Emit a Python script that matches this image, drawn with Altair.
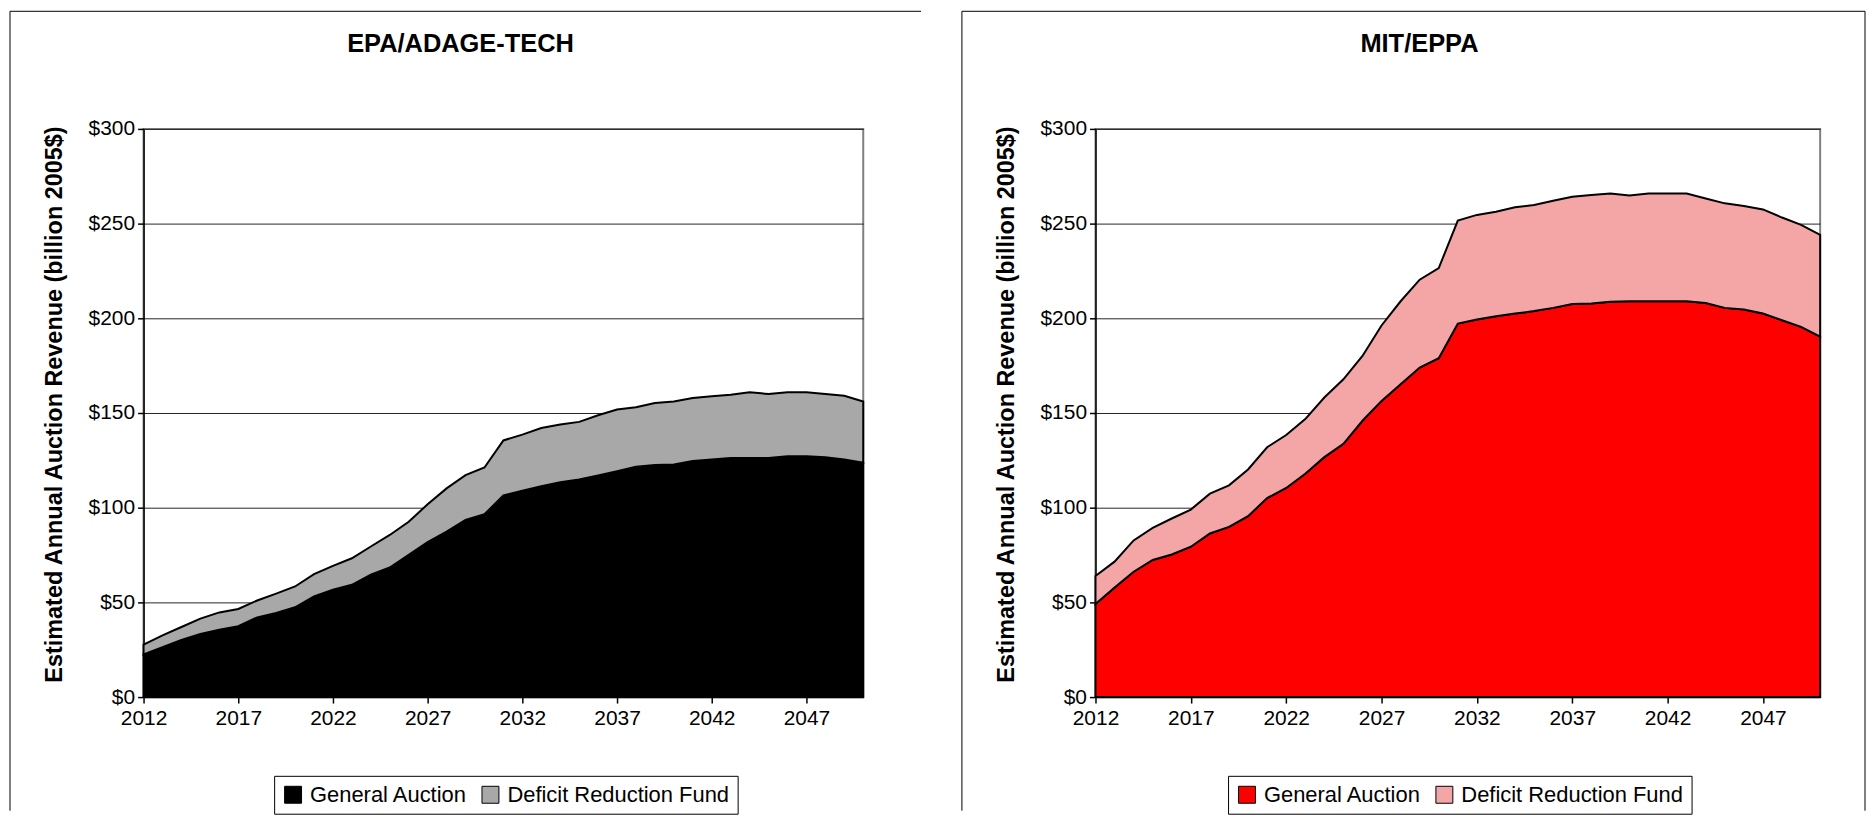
import altair as alt
import pandas as pd

years = list(range(2012, 2051))
series_names = ["General Auction", "Deficit Reduction Fund"]

# EPA/ADAGE-TECH (billion 2005$)
epa_general = [22.5, 26.3, 30.2, 33.3, 35.6, 37.4, 42.1, 44.4, 47.4, 53.2,
               56.7, 59.3, 64.6, 68.4, 75.1, 81.8, 87.4, 93.5, 96.5, 106.5,
               109.0, 111.4, 113.5, 114.9, 117.0, 119.3, 121.6, 122.5, 122.8, 124.6,
               125.4, 126.3, 126.3, 126.3, 127.2, 127.2, 126.7, 125.4, 123.7]
epa_deficit = [5.2, 6.3, 6.8, 8.1, 9.1, 9.1, 8.9, 10.2, 11.0, 11.7,
               12.6, 14.0, 14.9, 17.2, 17.5, 20.0, 22.8, 23.7, 24.7, 29.0,
               29.6, 30.7, 30.4, 30.4, 31.8, 32.5, 31.4, 32.8, 33.3, 33.3,
               33.4, 33.3, 34.7, 33.7, 33.8, 33.8, 33.3, 33.7, 32.4]

# MIT/EPPA (billion 2005$)
mit_general = [49.1, 57.8, 66.2, 72.4, 75.3, 79.4, 86.4, 89.9, 95.5, 105.1,
               110.4, 117.9, 126.7, 133.7, 145.9, 156.4, 165.2, 174.0, 178.9, 197.2,
               199.4, 201.1, 202.5, 203.8, 205.5, 207.6, 207.8, 208.7, 209.0, 209.0,
               209.0, 209.0, 208.1, 205.5, 204.6, 202.5, 199.0, 195.5, 190.3]
mit_deficit = [14.8, 13.7, 16.5, 16.9, 19.0, 19.6, 21.0, 21.9, 24.7, 26.8,
               28.0, 28.9, 31.5, 34.1, 34.2, 39.8, 43.8, 46.4, 47.6, 54.4,
               55.2, 55.2, 56.1, 56.0, 56.6, 56.6, 57.3, 57.2, 55.9, 56.9,
               56.9, 56.9, 55.2, 55.2, 54.7, 55.0, 54.2, 53.8, 53.7]

x_ticks = [2012, 2017, 2022, 2027, 2032, 2037, 2042, 2047]
y_ticks = [0, 50, 100, 150, 200, 250, 300]

FONT = "Liberation Sans"
Y_TITLE = "Estimated Annual Auction Revenue (billion 2005$)"


def long_df(general, deficit):
    rows = []
    for yr, g, d in zip(years, general, deficit):
        rows.append({"year": yr, "series": series_names[0], "value": g, "ord": 0})
        rows.append({"year": yr, "series": series_names[1], "value": d, "ord": 1})
    return pd.DataFrame(rows)


def panel(title, general, deficit, colors, plot_w, title_x, frame_right, legend_x):
    df = long_df(general, deficit)
    H = 570
    area = alt.Chart(df).mark_area(stroke="black", strokeWidth=2, opacity=1).encode(
        x=alt.X("year:Q",
                scale=alt.Scale(domain=[2012, 2050], nice=False, zero=False),
                axis=alt.Axis(values=x_ticks, format="d", title=None, grid=False,
                              labelFlush=False,
                              labelFontSize=21, labelPadding=5, tickSize=6,
                              tickWidth=1.5, domainWidth=1.5)),
        y=alt.Y("value:Q", stack="zero",
                scale=alt.Scale(domain=[0, 300], nice=False),
                axis=alt.Axis(values=y_ticks, labelExpr="'$' + datum.value",
                              title=Y_TITLE, titleFontSize=23.5, titleFontWeight="bold",
                              titleAngle=270, titleX=-82, titleY=276,
                              titleAlign="center", titleBaseline="alphabetic",
                              grid=True, gridColor="#262626", gridWidth=1,
                              labelFontSize=21, labelPadding=3, tickSize=6,
                              tickWidth=1.5, domainWidth=1.5)),
        color=alt.Color("series:N",
                        scale=alt.Scale(domain=series_names, range=colors),
                        sort=series_names,
                        legend=alt.Legend(title=None, orient="none",
                                          legendX=legend_x, legendY=649,
                                          direction="horizontal",
                                          symbolType="square", symbolSize=289,
                                          symbolStrokeColor="black",
                                          symbolStrokeWidth=1,
                                          symbolOpacity=1,
                                          labelFontSize=22, labelOffset=6,
                                          labelLimit=0,
                                          columnPadding=12, padding=8,
                                          strokeColor="black", fillColor="white",
                                          labelColor="black")),
        order=alt.Order("ord:Q"),
    )

    ttl = alt.Chart(pd.DataFrame({"t": [title]})).mark_text(
        font=FONT, fontSize=25.5, fontWeight="bold", align="center",
        baseline="alphabetic", color="black"
    ).encode(text="t:N", x=alt.value(title_x), y=alt.value(-77))

    frame = [
        alt.Chart().mark_rule(color="black", strokeWidth=1).encode(
            x=alt.value(-134), y=alt.value(-118), y2=alt.value(684)),
        alt.Chart().mark_rule(color="black", strokeWidth=1).encode(
            x=alt.value(-134), x2=alt.value(frame_right), y=alt.value(-118)),
    ]
    if frame_right < 775:
        frame.append(alt.Chart().mark_rule(color="black", strokeWidth=1).encode(
            x=alt.value(frame_right), y=alt.value(-118), y2=alt.value(684)))

    return alt.layer(*frame, area, ttl).properties(width=plot_w, height=H)


left = panel("EPA/ADAGE-TECH", epa_general, epa_deficit,
             ["#000000", "#a8a8a8"], 722, 318, 780, 131)
right = panel("MIT/EPPA", mit_general, mit_deficit,
              ["#ff0000", "#f4a6a6"], 727, 325, 772, 133)

chart = alt.hconcat(left, right, spacing=37).resolve_scale(
    color="independent").resolve_legend(color="independent").properties(
    padding=0
).configure(font=FONT).configure_view(
    stroke="#808080", strokeWidth=2
).configure_axis(
    labelFont=FONT, titleFont=FONT, labelColor="black", titleColor="black",
    domainColor="black", tickColor="black"
).configure_legend(labelFont=FONT)

chart.save("out.html", embed_options={"renderer": "svg", "actions": False})
